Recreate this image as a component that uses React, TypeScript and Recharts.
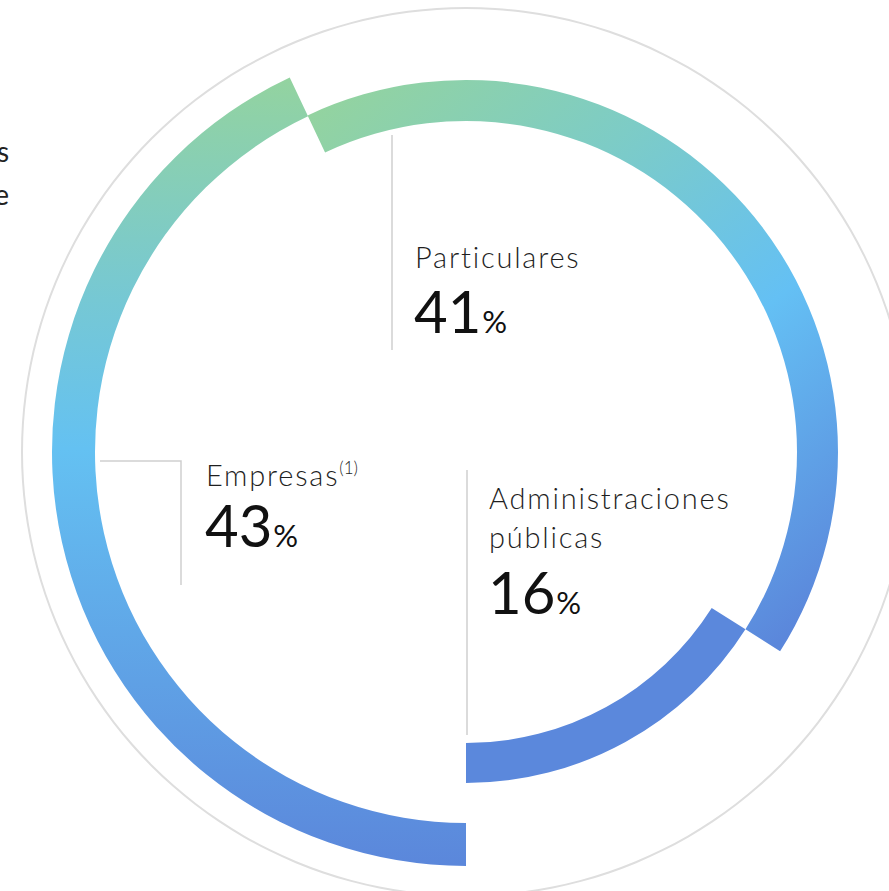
import React from 'react'
import { PieChart, Pie, Cell } from 'recharts'

const categories = ['Empresas', 'Particulares', 'Administraciones públicas']
const shares = [43, 41, 16]

const W = 889
const H = 891
const CX = 466
const CY = 452

// ring thickness per segment, outer rings first
const rings = [
  { inner: 371, outer: 414, fill: 'url(#gradEmpresas)' },
  { inner: 331, outer: 372, fill: 'url(#gradParticulares)' },
  { inner: 291, outer: 331, fill: '#5b88dc' },
]

const data = categories.map((name, i) => ({ name, value: shares[i] }))

const FONT = 'Lato, "Open Sans", sans-serif'
const TEXT = '#1f1f1f'
const RULE = '#cfcfcf'

const labelStyle = { fontFamily: FONT, fontWeight: 300, fontSize: 29, letterSpacing: 1.8, fill: TEXT }

function Pct({ x, y, v }: { x: number; y: number; v: number }) {
  return (
    <text x={x} y={y} fill="#111" fontFamily={FONT} fontWeight={400}>
      <tspan fontSize={58}>{v}</tspan>
      <tspan fontSize={31} dx={1}>%</tspan>
    </text>
  )
}

export default function App() {
  return (
    <div style={{ position: 'absolute', left: 0, top: 0, width: W, height: H, background: '#fff' }}>
      <PieChart width={W} height={H} margin={{ top: 0, right: 0, bottom: 0, left: 0 }}>
        <defs>
          <linearGradient id="gradEmpresas" gradientUnits="userSpaceOnUse" x1={0} y1={80} x2={0} y2={865}>
            <stop offset="0" stopColor="#93d3a0" />
            <stop offset="0.28" stopColor="#76c8d4" />
            <stop offset="0.47" stopColor="#64c1f2" />
            <stop offset="1" stopColor="#5b87db" />
          </linearGradient>
          <linearGradient id="gradParticulares" gradientUnits="userSpaceOnUse" x1={330} y1={100} x2={775} y2={645}>
            <stop offset="0" stopColor="#93d3a0" />
            <stop offset="0.3" stopColor="#7dccc6" />
            <stop offset="0.62" stopColor="#64c0f4" />
            <stop offset="1" stopColor="#5b87db" />
          </linearGradient>
        </defs>
        {/* thin outer frame */}
        <Pie
          data={[{ name: 'frame', value: 1 }]}
          dataKey="value"
          cx={CX}
          cy={CY}
          innerRadius={443}
          outerRadius={445}
          startAngle={90}
          endAngle={-270}
          fill="#dedede"
          stroke="none"
          isAnimationActive={false}
        />
        {rings.map((r, i) => (
          <Pie
            key={categories[i]}
            data={data}
            dataKey="value"
            nameKey="name"
            cx={CX}
            cy={CY}
            innerRadius={r.inner}
            outerRadius={r.outer}
            startAngle={-90}
            endAngle={-450}
            stroke="none"
            isAnimationActive={false}
          >
            {data.map((d, j) => (
              <Cell key={d.name} fill={j === i ? r.fill : 'transparent'} />
            ))}
          </Pie>
        ))}
      </PieChart>

      <svg width={W} height={H} style={{ position: 'absolute', left: 0, top: 0, pointerEvents: 'none' }}>
        {/* tails of the neighbouring column text */}
        <text x={9} y={162} textAnchor="end" fontSize={28} fill="#222" fontFamily={FONT} fontWeight={400}>s</text>
        <text x={9} y={205} textAnchor="end" fontSize={28} fill="#222" fontFamily={FONT} fontWeight={400}>e</text>

        {/* Particulares */}
        <line x1={392} y1={135} x2={392} y2={350} stroke={RULE} strokeWidth={1.5} />
        <text x={415} y={268} style={labelStyle}>{categories[1]}</text>
        <Pct x={414} y={333} v={shares[1]} />

        {/* Empresas */}
        <polyline points="100,461 181,461 181,585" fill="none" stroke={RULE} strokeWidth={1.5} />
        <text x={206} y={486} style={labelStyle}>
          <tspan>{categories[0]}</tspan>
          <tspan fontSize={17} dy={-12} letterSpacing={0}>(1)</tspan>
        </text>
        <Pct x={205} y={547} v={shares[0]} />

        {/* Administraciones públicas */}
        <line x1={467} y1={470} x2={467} y2={735} stroke={RULE} strokeWidth={1.5} />
        <text x={489} y={509} style={labelStyle}>Administraciones</text>
        <text x={489} y={548} style={labelStyle}>públicas</text>
        <Pct x={488} y={614} v={shares[2]} />
      </svg>
    </div>
  )
}
